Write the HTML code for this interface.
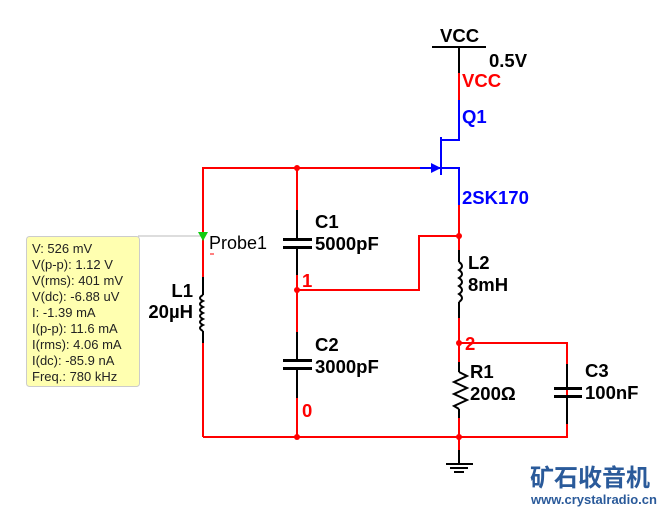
<!DOCTYPE html>
<html><head><style>
html,body{margin:0;padding:0;background:#fff;}
svg{display:block;font-family:"Liberation Sans",Arial,sans-serif;}
.b{font-weight:bold;font-size:18.5px;fill:#000;}
.r{stroke:#f00;stroke-width:2;fill:none;}
.k{stroke:#000;stroke-width:2;fill:none;}
.u{stroke:#00f;stroke-width:2;fill:none;}
.t{font-size:13px;fill:#222;}
</style></head><body>
<svg width="662" height="511" viewBox="0 0 662 511">
<!-- VCC -->
<text x="440" y="42" class="b">VCC</text>
<line x1="432" y1="47" x2="486" y2="47" class="k"/>
<line x1="459" y1="47" x2="459" y2="73" class="k"/>
<text x="489" y="67" class="b">0.5V</text>
<line x1="459" y1="73" x2="459" y2="100" class="r"/>
<text x="462" y="87" class="b" style="fill:#f00">VCC</text>
<!-- JFET -->
<polyline points="459,100 459,140 441,140" class="u"/>
<line x1="441" y1="137" x2="441" y2="175" class="u"/>
<polyline points="441,168 459,168 459,205" class="u"/>
<text x="462" y="123" class="b" style="fill:#00f">Q1</text>
<text x="462" y="204" class="b" style="fill:#00f">2SK170</text>
<line x1="420" y1="168" x2="441" y2="168" class="u"/>
<polygon points="431,163 441,168 431,173" fill="#00f"/>
<!-- main wires -->
<polyline points="420,168 203,168 203,277" class="r"/>
<line x1="203" y1="343" x2="203" y2="437" class="r"/>
<polyline points="203,437 567,437 567,372" class="r"/>
<line x1="297" y1="168" x2="297" y2="210" class="r"/>
<line x1="297" y1="275" x2="297" y2="332" class="r"/>
<line x1="297" y1="398" x2="297" y2="437" class="r"/>
<polyline points="297,290 419,290 419,236 459,236" class="r"/>
<line x1="459" y1="205" x2="459" y2="250" class="r"/>
<line x1="459" y1="318" x2="459" y2="362" class="r"/>
<polyline points="459,343 567,343 567,364" class="r"/>
<line x1="459" y1="418" x2="459" y2="437" class="r"/>
<line x1="459" y1="437" x2="459" y2="450" class="r"/>
<!-- C1 -->
<line x1="297" y1="210" x2="297" y2="239" class="k"/>
<line x1="283" y1="239.5" x2="312" y2="239.5" stroke="#000" stroke-width="3"/>
<line x1="283" y1="247.5" x2="312" y2="247.5" stroke="#000" stroke-width="3"/>
<line x1="297" y1="248" x2="297" y2="275" class="k"/>
<text x="315" y="228" class="b">C1</text>
<text x="315" y="250" class="b">5000pF</text>
<!-- C2 -->
<line x1="297" y1="332" x2="297" y2="360" class="k"/>
<line x1="283" y1="360.5" x2="312" y2="360.5" stroke="#000" stroke-width="3"/>
<line x1="283" y1="368.5" x2="312" y2="368.5" stroke="#000" stroke-width="3"/>
<line x1="297" y1="369" x2="297" y2="398" class="k"/>
<text x="315" y="351" class="b">C2</text>
<text x="315" y="373" class="b">3000pF</text>
<text x="302" y="287" class="b" style="fill:#f00">1</text>
<text x="302" y="417" class="b" style="fill:#f00">0</text>
<!-- L1 -->
<line x1="203" y1="277" x2="203" y2="295" class="k"/>
<path d="M203,295 q-6,3 0,6 q-6,3 0,6 q-6,3 0,6 q-6,3 0,6 q-6,3 0,6 q-6,3 0,6" class="k" stroke-width="1.6"/>
<line x1="203" y1="331" x2="203" y2="343" class="k"/>
<text x="193" y="297" class="b" text-anchor="end">L1</text>
<text x="193" y="318" class="b" text-anchor="end">20µH</text>
<!-- L2 -->
<line x1="459" y1="250" x2="459" y2="262" class="k"/>
<path d="M459,262 q6,4 0,8 q6,4 0,8 q6,4 0,8 q6,4 0,8 q6,4 0,8" class="k" stroke-width="1.6"/>
<line x1="459" y1="302" x2="459" y2="318" class="k"/>
<text x="468" y="269" class="b">L2</text>
<text x="468" y="291" class="b">8mH</text>
<text x="465" y="350" class="b" style="fill:#f00">2</text>
<!-- R1 -->
<line x1="459" y1="362" x2="459" y2="372" class="k"/>
<polyline points="459,372 467,376 454,382 467,388 454,394 467,400 454,406 459,409" class="k" stroke-width="1.6"/>
<line x1="459" y1="409" x2="459" y2="418" class="k"/>
<text x="470" y="378" class="b">R1</text>
<text x="470" y="400" class="b">200Ω</text>
<!-- C3 -->
<line x1="567" y1="364" x2="567" y2="388" class="k"/>
<line x1="554" y1="388.5" x2="582" y2="388.5" stroke="#000" stroke-width="3"/>
<line x1="554" y1="396.5" x2="582" y2="396.5" stroke="#000" stroke-width="3"/>
<line x1="567" y1="397" x2="567" y2="424" class="k"/>
<text x="585" y="377" class="b">C3</text>
<text x="585" y="399" class="b">100nF</text>
<!-- ground -->
<line x1="459" y1="450" x2="459" y2="464" class="k"/>
<line x1="446" y1="464" x2="473" y2="464" class="k"/>
<line x1="450" y1="468" x2="468" y2="468" class="k"/>
<line x1="454" y1="472" x2="464" y2="472" class="k"/>
<!-- dots -->
<g fill="#f00">
<circle cx="297" cy="168" r="3"/><circle cx="297" cy="290" r="3"/><circle cx="297" cy="437" r="3"/>
<circle cx="459" cy="236" r="3"/><circle cx="459" cy="343" r="3"/><circle cx="459" cy="437" r="3"/>
</g>
<!-- probe -->
<line x1="138" y1="236" x2="203" y2="236" stroke="#bbb" stroke-width="1"/>
<polygon points="198,232 208,232 203,241" fill="#1c1"/>
<text x="209" y="249" style="font-size:18px;fill:#000">Probe1</text>
<line x1="210" y1="254" x2="214" y2="254" stroke="#f00" stroke-width="1"/>
<rect x="26.5" y="236.5" width="113" height="150" rx="3" fill="#ffffb0" stroke="#ccc"/>
<g>
<text x="32" y="253" class="t">V: 526 mV</text>
<text x="32" y="269" class="t">V(p-p): 1.12 V</text>
<text x="32" y="285" class="t">V(rms): 401 mV</text>
<text x="32" y="301" class="t">V(dc): -6.88 uV</text>
<text x="32" y="317" class="t">I: -1.39 mA</text>
<text x="32" y="333" class="t">I(p-p): 11.6 mA</text>
<text x="32" y="349" class="t">I(rms): 4.06 mA</text>
<text x="32" y="365" class="t">I(dc): -85.9 nA</text>
<text x="32" y="381" class="t">Freq.: 780 kHz</text>
</g>
<!-- watermark -->
<text x="530" y="486" style="font-family:'Liberation Sans','Noto Sans CJK SC',sans-serif;font-weight:bold;font-size:24px;fill:#2a5a9a">矿石收音机</text>
<text x="531" y="504" style="font-size:13px;fill:#2a5a9a;font-weight:bold">www.crystalradio.cn</text>
</svg>
</body></html>
